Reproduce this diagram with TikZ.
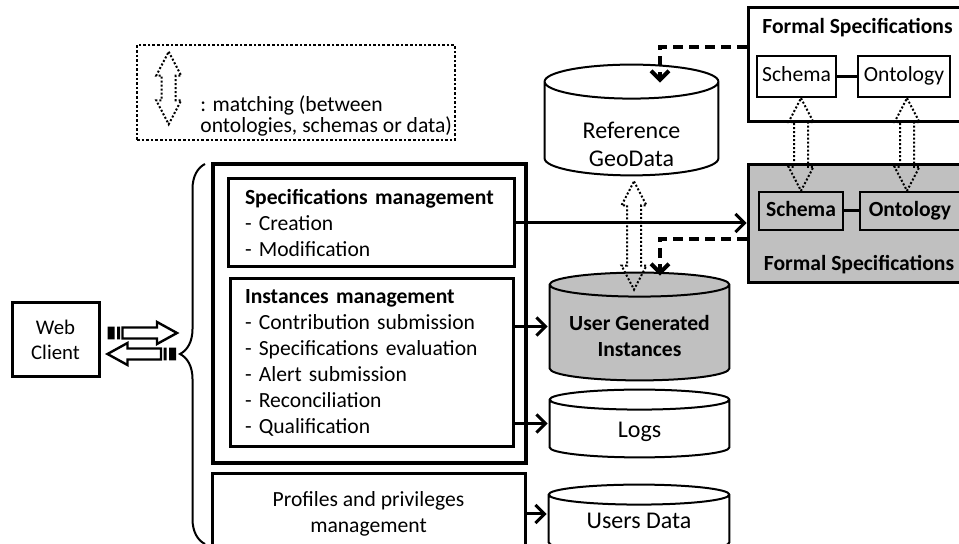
\documentclass[tikz,border=0pt]{standalone}
\usepackage{fontspec}
\setmainfont{Carlito}
\usetikzlibrary{decorations.pathreplacing,calc,arrows.meta}
\definecolor{specgray}{RGB}{192,192,192}

\tikzset{
	box/.style={draw, line width=1.5pt, inner sep=0pt},
	mgmtbox/.style={box, align=left},
	smallbox/.style={draw, line width=1.2pt, inner sep=0pt, minimum height=20.5pt, text height=7.6pt, text depth=2.4pt},
	drum/.style 2 args={inner sep=0pt, path picture={
		\draw[line width=1pt, fill=#2] let \p1=([shift={(0.8pt,0.8pt)}]path picture bounding box.south west),
			\p2=([shift={(-0.8pt,-0.8pt)}]path picture bounding box.north east), \n1={(\x2-\x1)/2} in
			(\x1,\y2-#1) -- (\x1,\y1+#1) arc[start angle=180, end angle=360, x radius={\n1*1pt}, y radius=#1]
			-- (\x2,\y2-#1) arc[start angle=0, end angle=180, x radius={\n1*1pt}, y radius=#1] -- cycle
			(\x1,\y2-#1) arc[start angle=180, end angle=360, x radius={\n1*1pt}, y radius=#1];
		}},
	drumtext/.style={align=center, font=\fontsize{12}{14}\selectfont},
	link/.style={line width=1.5pt, ->},
	refline/.style={line width=2pt, dash pattern=on 5pt off 3pt, ->},
	matching/.style={line width=1pt, densely dotted, to path={let \p1=(\tikztostart), \p2=(\tikztotarget) in
		(\x1,\y1) -- (\x1+6.25pt,\y1-12pt) -- (\x1+3.5pt,\y1-12pt) -- (\x1+3.5pt,\y2+12pt) -- (\x1+6.25pt,\y2+12pt) -- (\x1,\y2)
		-- (\x1-6.25pt,\y2+12pt) -- (\x1-3.5pt,\y2+12pt) -- (\x1-3.5pt,\y1-12pt) -- (\x1-6.25pt,\y1-12pt) -- cycle}},
	webarrow/.style={line width=1.2pt, fill=white, to path={let \p1=(\tikztostart), \p2=(\tikztotarget), \n1={ifthenelse(\x2>\x1,1,-1)} in
		({\x1+(\n1)*7.5pt},{\y1-2.75pt}) -- ({\x2-(\n1)*10pt},{\y1-2.75pt}) -- ({\x2-(\n1)*10pt},{\y1-5.5pt}) -- (\x2,\y1)
		-- ({\x2-(\n1)*10pt},{\y1+5.5pt}) -- ({\x2-(\n1)*10pt},{\y1+2.75pt}) -- ({\x1+(\n1)*7.5pt},{\y1+2.75pt}) -- cycle}},
	webstripes/.style={fill=black, to path={let \p1=(\tikztostart), \p2=(\tikztotarget), \n1={ifthenelse(\x2>\x1,1,-1)} in
		(\x1,{\y1-3.2pt}) rectangle ({\x1+(\n1)*3.5pt},{\y1+3.2pt})
		({\x1+(\n1)*4.75pt},{\y1-3.2pt}) rectangle ({\x1+(\n1)*6.25pt},{\y1+3.2pt})}},
}

\begin{document}
\begin{tikzpicture}[x=0.5pt, y=-0.5pt, font=\fontsize{10.8}{13}\selectfont, >={Straight Barb[length=4.5pt,width=9pt]}]
	\useasboundingbox (0,0) rectangle (959,544);

	% legende
	\node[draw, densely dotted, line width=1.3pt, minimum width=159pt, minimum height=47.5pt] (legend) at (296,92.5) {};
	\node[anchor=west, align=left, inner sep=0pt, font=\fontsize{10.8}{10.5}\selectfont] (legendtext) at (200,116) {: matching (between\\ontologies, schemas or data)};
	\draw[matching] ([xshift=16.5pt,yshift=-4pt]legend.north west) to ([xshift=16.5pt,yshift=8.5pt]legend.south west);

	% outils de gestion
	\node[box, line width=2pt, minimum width=156.5pt, minimum height=149.5pt] (tools) at (369.5,313.5) {};
	\node[mgmtbox, minimum width=143pt, minimum height=44pt, text width=126pt] (spec) at (371,223)
		{\textbf{Specifications management}\\- Creation\\- Modification};
	\node[mgmtbox, minimum width=141.5pt, minimum height=84pt, text width=126.5pt] (inst) at (371.5,363)
		{\textbf{Instances management}\\- Contribution submission\\- Specifications evaluation\\- Alert submission\\- Reconciliation\\- Qualification};
	\node[box, align=center, minimum width=156.5pt, minimum height=40pt] (prof) at (368.5,514) {Profiles and privileges\\management};

	% client
	\node[box, align=center, minimum width=43.5pt, minimum height=37pt, font=\fontsize{10.4}{12.5}\selectfont] (web) at (55.5,340) {Web\\Client};
	\coordinate (bracetip) at (180,354);
	\draw[line width=1pt, decorate, decoration={brace, amplitude=12.5pt}] (205,544) -- (205,164);
	\draw[webarrow] ([xshift=3.5pt,yshift=3.5pt]web.east) to ([xshift=-1.5pt,yshift=10.5pt]bracetip);
	\fill[webstripes] ([xshift=3.5pt,yshift=3.5pt]web.east) to ([xshift=-1.5pt,yshift=10.5pt]bracetip);
	\draw[webarrow] ([xshift=-2pt]bracetip) to ([xshift=3.5pt,yshift=-7pt]web.east);
	\fill[webstripes] ([xshift=-2pt]bracetip) to ([xshift=3.5pt,yshift=-7pt]web.east);

	% bases de donnees
	\node[drum={8.5pt}{white}, minimum width=88.5pt, minimum height=57pt,
		label={[name=refgeotext, drumtext, yshift=-12pt]center:{Reference\\GeoData}}] (refgeo) at (631.5,120) {};
	\node[drum={6pt}{specgray}, minimum width=91.5pt, minimum height=55.5pt,
		label={[name=ugitext, align=center, yshift=-5pt]center:{\textbf{User Generated}\\\textbf{Instances}}}] (ugi) at (639.5,326.5) {};
	\node[drum={5pt}{white}, minimum width=91.5pt, minimum height=35.5pt,
		label={[name=logstext, drumtext, yshift=-4.25pt]center:Logs}] (logs) at (639.5,423.5) {};
	\node[drum={5pt}{white}, minimum width=92pt, minimum height=35.5pt,
		label={[name=userstext, drumtext, yshift=-1pt]center:Users Data}] (users) at (639,518.5) {};

	% specifications formelles
	\node[box, minimum width=106.5pt, minimum height=57pt] (fstop) at (854.5,65) {};
	\node (fstitle) at (857.5,28) {\textbf{Formal Specifications}};
	\node[smallbox, minimum width=39.5pt] (schemaA) at (796.5,76.5) {Schema};
	\node[smallbox, minimum width=46pt] (ontoA) at (904,76.5) {Ontology};
	\node[box, fill=specgray, minimum width=106.5pt, minimum height=59pt] (fsgray) at (854.5,224) {};
	\node (fsgraytitle) at (859,265) {\textbf{Formal Specifications}};
	\node[smallbox, minimum width=42pt, minimum height=19pt] (schemaB) at (801,211) {\textbf{Schema}};
	\node[smallbox, minimum width=50pt, minimum height=19pt] (ontoB) at (910,211) {\textbf{Ontology}};
	\draw[line width=1.5pt] (schemaA) -- (ontoA);
	\draw[line width=1.5pt] (schemaB) -- (ontoB);

	% liens
	\draw[link] (spec.east) -- (spec.east -| fsgray.west);
	\draw[link] (inst.east |- ugi.west) -- (ugi.west);
	\draw[link] (inst.east |- logs.west) -- (logs.west);
	\draw[link] (prof.east) -- (prof.east -| users.west);
	\draw[refline] ([yshift=9pt]fstop.west) -| ([xshift=14.25pt,yshift=-10pt]refgeo.north);
	\draw[refline] ([yshift=-7.5pt]fsgray.west) -| ([xshift=10.25pt,yshift=-2.5pt]ugi.north);

	% correspondances
	\draw[matching] ([xshift=1.25pt,yshift=-2pt]refgeo.south) to ([xshift=1.25pt,yshift=-9.5pt]ugi.north);
	\draw[matching] (schemaB.north |- schemaA.south) to (schemaB.north);
	\draw[matching] ([xshift=1.5pt]ontoA.south) to ([xshift=1.5pt]ontoA.south |- ontoB.north);
\end{tikzpicture}
\end{document}
